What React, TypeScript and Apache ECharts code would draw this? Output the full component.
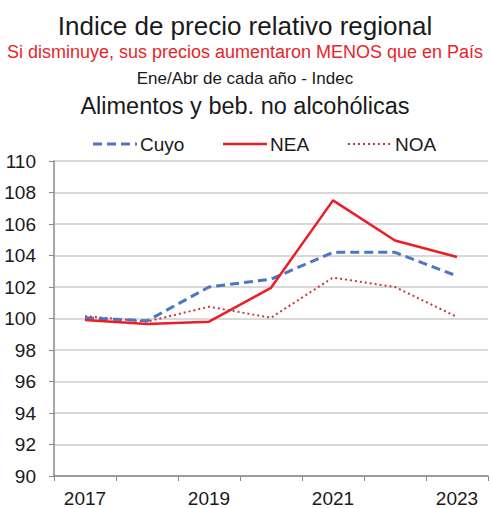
import React, { useEffect, useRef } from "react";
import * as echarts from "echarts";

const years = ["2017", "2018", "2019", "2020", "2021", "2022", "2023"];
const seriesNames = ["Cuyo", "NEA", "NOA"];
const cuyo = [100.05, 99.85, 102.0, 102.5, 104.2, 104.2, 102.7];
const nea = [99.9, 99.65, 99.8, 101.95, 107.5, 104.95, 103.9];
const noa = [100.15, 99.8, 100.75, 100.05, 102.6, 102.0, 100.1];

const FONT = "'Liberation Sans', Arial, sans-serif";
const COLORS = ["#4f74c4", "#ee1c24", "#c0393b"];
const WIDTHS = [3, 2.5, 2];
const DASHES: (number[] | null)[] = [[9, 5], null, [2, 3]];

export default function App() {
  const ref = useRef<HTMLDivElement>(null);
  useEffect(() => {
    const chart = echarts.init(ref.current!, undefined, { renderer: "svg" });
    const titleText = (text: string, y: number, size: number, color: string) => ({
      type: "text",
      x: 245,
      y,
      style: { text, fontSize: size, fill: color, fontFamily: FONT, align: "center", verticalAlign: "middle" },
    });
    const legendX = [93, 223, 348];
    const legendItems: any[] = [];
    seriesNames.forEach((n, i) => {
      legendItems.push({
        type: "line",
        shape: { x1: legendX[i], y1: 144, x2: legendX[i] + 44, y2: 144 },
        style: { stroke: COLORS[i], lineWidth: WIDTHS[i], lineDash: DASHES[i] || undefined },
      });
      legendItems.push({
        type: "text",
        x: legendX[i] + 47,
        y: 144,
        style: { text: n, fontSize: 19, fill: "#1a1a1a", fontFamily: FONT, align: "left", verticalAlign: "middle" },
      });
    });
    const data = [cuyo, nea, noa];
    chart.setOption({
      animation: false,
      backgroundColor: "#ffffff",
      textStyle: { fontFamily: FONT },
      graphic: [
        titleText("Indice de precio relativo regional", 26, 26, "#1a1a1a"),
        titleText("Si disminuye, sus precios aumentaron MENOS que en País", 52, 18, "#e8242b"),
        titleText("Ene/Abr de cada año - Indec", 78, 17, "#1a1a1a"),
        titleText("Alimentos y beb. no alcohólicas", 106, 23.5, "#1a1a1a"),
        ...legendItems,
      ],
      grid: { left: 54, right: 3, top: 161, bottom: 28, containLabel: false },
      xAxis: {
        type: "category",
        data: years,
        boundaryGap: true,
        axisLine: { lineStyle: { color: "#888888", width: 1.5 } },
        axisTick: { show: true, interval: 0, length: 5, lineStyle: { color: "#888888" } },
        axisLabel: { interval: 1, fontSize: 19, color: "#1a1a1a", margin: 13, fontFamily: FONT },
      },
      yAxis: {
        type: "value",
        min: 90,
        max: 110,
        interval: 2,
        axisLine: { show: true, lineStyle: { color: "#888888", width: 1.5 } },
        axisTick: { show: true, length: 5, lineStyle: { color: "#888888" } },
        axisLabel: { fontSize: 19, color: "#1a1a1a", margin: 18, fontFamily: FONT },
        splitLine: { show: true, lineStyle: { color: "#d9d9d9", width: 2 } },
      },
      series: seriesNames.map((n, i) => ({
        name: n,
        type: "line",
        data: data[i],
        symbol: "none",
        lineStyle: { color: COLORS[i], width: WIDTHS[i], type: DASHES[i] || "solid" },
        itemStyle: { color: COLORS[i] },
        z: [3, 4, 2][i],
      })),
    });
    return () => chart.dispose();
  }, []);
  return <div ref={ref} style={{ position: "absolute", left: 0, top: 0, width: 491, height: 508 }} />;
}
